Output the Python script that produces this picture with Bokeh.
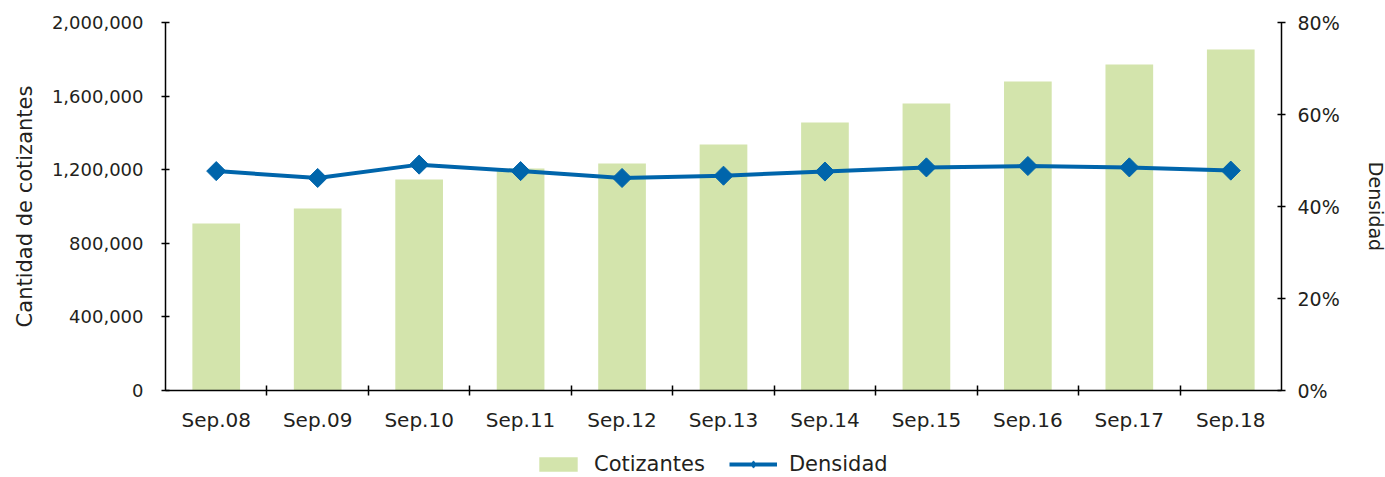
import math
from bokeh.plotting import figure
from bokeh.layouts import column
from bokeh.models import (Range1d, LinearAxis, FixedTicker, NumeralTickFormatter,
                          Legend, LegendItem, ColumnDataSource)
from bokeh.embed import file_html
from bokeh.resources import INLINE

categories = ["Sep.08", "Sep.09", "Sep.10", "Sep.11", "Sep.12", "Sep.13",
              "Sep.14", "Sep.15", "Sep.16", "Sep.17", "Sep.18"]
cotizantes = [908000, 989000, 1147000, 1206000, 1234000, 1337000,
              1457000, 1560000, 1679000, 1772000, 1853000]
densidad = [0.477, 0.462, 0.491, 0.477, 0.462, 0.467,
            0.476, 0.485, 0.488, 0.485, 0.478]
y_ticks = [0, 400000, 800000, 1200000, 1600000, 2000000]
pct_ticks = [0, 0.2, 0.4, 0.6, 0.8]

FONT = "DejaVu Sans"
TXT = "#231F20"
BAR = "#D3E4AC"
BLUE = "#0065AB"

xs = [i + 0.5 for i in range(len(categories))]
src = ColumnDataSource(dict(x=xs, cot=cotizantes, den=densidad))

p = figure(frame_width=1116, frame_height=368, output_backend="svg", toolbar_location=None,
           x_range=Range1d(0, len(categories)), y_range=Range1d(0, 2000000),
           min_border_left=165, min_border_right=100, min_border_top=22,
           min_border_bottom=52)
p.extra_y_ranges = {"pct": Range1d(0, 0.8)}
p.outline_line_color = None
p.xgrid.grid_line_color = None
p.ygrid.grid_line_color = None
p.background_fill_color = "white"
p.border_fill_color = "white"

p.vbar(x="x", top="cot", width=0.47, source=src, fill_color=BAR, line_color=None)
p.line(x="x", y="den", source=src, y_range_name="pct", line_color=BLUE, line_width=4)
p.scatter(x="x", y="den", source=src, y_range_name="pct", marker="square",
          size=13.5, angle=math.pi / 4, fill_color=BLUE, line_color=BLUE)

# x axis
xa = p.xaxis[0]
xa.ticker = FixedTicker(ticks=xs, minor_ticks=list(range(1, len(categories))))
xa.major_label_overrides = {x: c for x, c in zip(xs, categories)}
xa.major_tick_line_color = None
xa.minor_tick_in = 5
xa.minor_tick_out = 5
xa.minor_tick_line_color = "black"
xa.minor_tick_line_width = 1.5
xa.axis_line_color = "black"
xa.axis_line_width = 1.5
xa.major_label_standoff = 11
xa.major_label_text_font = FONT
xa.major_label_text_font_size = "20px"
xa.major_label_text_color = TXT

# left y axis
ya = p.yaxis[0]
ya.ticker = FixedTicker(ticks=y_ticks)
ya.formatter = NumeralTickFormatter(format="0,0")
ya.major_tick_in = 4
ya.major_tick_out = 4
ya.minor_tick_line_color = None
ya.axis_line_color = "black"
ya.axis_line_width = 1.5
ya.major_tick_line_width = 1.5
ya.major_label_standoff = 18
ya.major_label_text_font = FONT
ya.major_label_text_font_size = "18px"
ya.major_label_text_color = TXT
ya.axis_label = "Cantidad de cotizantes"
ya.axis_label_text_font = FONT
ya.axis_label_text_font_size = "21px"
ya.axis_label_text_font_style = "normal"
ya.axis_label_text_color = TXT
ya.axis_label_standoff = 12

# right y axis
ra = LinearAxis(y_range_name="pct", ticker=FixedTicker(ticks=pct_ticks),
                formatter=NumeralTickFormatter(format="0%"))
ra.major_tick_in = 4
ra.major_tick_out = 4
ra.minor_tick_line_color = None
ra.axis_line_color = "black"
ra.axis_line_width = 1.5
ra.major_tick_line_width = 1.5
ra.major_label_standoff = 12
ra.major_label_text_font = FONT
ra.major_label_text_font_size = "19px"
ra.major_label_text_color = TXT
ra.axis_label = "Densidad"
ra.axis_label_text_font = FONT
ra.axis_label_text_font_size = "19px"
ra.axis_label_text_font_style = "normal"
ra.axis_label_text_color = TXT
ra.axis_label_standoff = 22
p.add_layout(ra, "right")

# legend strip (separate small figure below the chart)
leg = figure(width=1385, height=35, output_backend="svg", toolbar_location=None,
             x_range=Range1d(0, len(categories)), y_range=Range1d(0, 2000000),
             min_border=0)
leg.axis.visible = False
leg.grid.visible = False
leg.outline_line_color = None
leg.border_fill_color = "white"
lb = leg.vbar(x="x", top="cot", width=0.47, source=src, fill_color=BAR,
              line_color=None, visible=False)
ll = leg.line(x="x", y="cot", source=src, line_color=BLUE, line_width=4, visible=False)
lm = leg.scatter(x="x", y="cot", source=src, marker="diamond", size=22,
                 fill_color=BLUE, line_color=BLUE, visible=False)
legend = Legend(items=[LegendItem(label="Cotizantes", renderers=[lb]),
                       LegendItem(label="Densidad", renderers=[ll, lm])],
                orientation="horizontal", location=(369, 1),
                glyph_width=48, glyph_height=18, label_standoff=12, spacing=24,
                padding=0, margin=0, border_line_color=None,
                inactive_fill_alpha=0, background_fill_alpha=0,
                label_text_font=FONT, label_text_font_size="21px",
                label_text_color=TXT)
leg.add_layout(legend, "center")

open("out.html", "w").write(file_html(column(p, leg, spacing=0), INLINE))
